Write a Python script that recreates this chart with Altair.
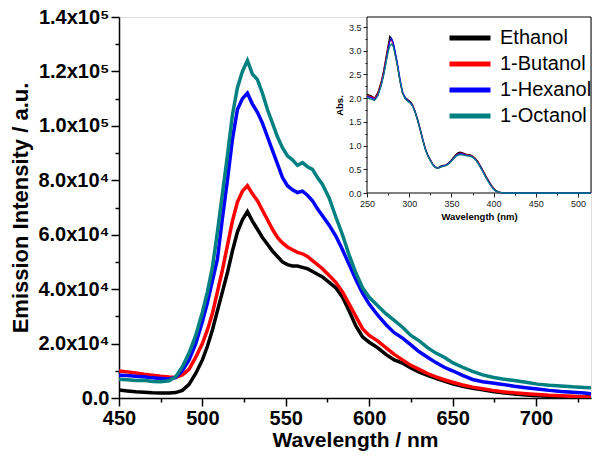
import altair as alt
import pandas as pd

# ---------------- data ----------------
series = ["Ethanol", "1-Butanol", "1-Hexanol", "1-Octanol"]
colors = ["#000000", "#ff0000", "#0000ff", "#008080"]

# main emission spectra (intensity in units of 1e3 a.u.)
em_nm = [450, 455, 460, 465, 470, 475, 480, 484, 488, 492, 496, 500, 503, 506, 509, 512,
         515, 518, 521, 524, 527, 530, 533, 536, 539, 542, 545, 548, 551, 554, 557, 560,
         563, 566, 569, 572, 576, 580, 584, 588, 592, 596, 600, 605, 610, 615, 620, 625,
         630, 635, 640, 645, 650, 656, 662, 668, 674, 680, 687, 694, 701, 708, 715, 722,
         729, 735]
em_ethanol = [2.9, 2.6, 2.3, 2.1, 1.9, 1.8, 1.8, 2.0, 2.8, 5.0, 9.0, 14.0, 19.0, 25.0, 32.0, 39.0,
              46.0, 54.0, 61.0, 65.5, 68.5, 65.0, 62.0, 59.0, 56.5, 54.0, 52.0, 50.0, 49.0, 48.5, 48.5, 48.0,
              47.5, 46.5, 45.5, 44.5, 42.5, 40.5, 37.0, 32.0, 26.5, 22.5, 20.5, 18.5, 16.0, 14.0, 12.8, 11.0,
              9.5, 8.3, 7.2, 6.2, 5.2, 4.3, 3.6, 3.0, 2.4, 1.9, 1.5, 1.1, 0.8, 0.6, 0.5, 0.4,
              0.4, 0.4]
em_butanol = [9.9, 9.6, 9.2, 8.7, 8.4, 8.0, 7.7, 7.6, 8.5, 10.5, 15.0, 20.0, 25.0, 31.0, 39.0, 47.0,
              56.0, 65.0, 72.0, 76.0, 78.0, 75.0, 72.5, 69.0, 65.5, 62.0, 59.0, 57.0, 55.5, 54.5, 53.5, 53.0,
              52.0, 50.5, 49.0, 47.5, 45.0, 42.5, 39.0, 34.5, 30.0, 25.5, 23.0, 21.0, 18.5, 16.0, 14.0, 12.0,
              10.5, 9.0, 7.8, 6.7, 5.8, 4.8, 4.0, 3.4, 2.8, 2.3, 1.9, 1.6, 1.3, 1.0, 0.8, 0.6,
              0.4, 0.3]
em_hexanol = [8.4, 8.3, 8.0, 7.8, 7.4, 7.2, 7.0, 7.5, 10.0, 14.0, 20.0, 28.0, 35.0, 43.0, 51.0, 66.0,
              80.0, 95.0, 106.0, 110.0, 112.0, 108.0, 105.0, 101.0, 96.0, 91.0, 86.0, 81.0, 78.0, 76.5, 75.5, 76.0,
              74.5, 72.5, 69.5, 67.0, 63.5, 59.5, 54.5, 49.0, 43.5, 38.5, 34.5, 30.5, 27.0, 24.0, 22.0, 19.5,
              17.0, 15.0, 13.0, 11.3, 10.0, 8.3, 6.8, 6.0, 5.5, 5.0, 4.3, 3.8, 3.3, 2.8, 2.4, 2.1,
              1.8, 1.5]
em_octanol = [6.9, 6.7, 6.4, 6.5, 6.1, 6.0, 6.3, 7.8, 11.5, 16.5, 23.0, 31.5, 39.0, 48.0, 61.0, 75.0,
              89.0, 104.0, 114.0, 120.0, 124.0, 119.0, 117.0, 112.0, 106.0, 101.0, 96.0, 92.0, 89.0, 87.5, 85.5, 86.5,
              85.0, 84.0, 81.0, 78.5, 73.5, 66.5, 60.0, 52.5, 46.0, 40.5, 37.0, 34.0, 31.0, 28.5, 26.0, 23.0,
              21.0, 18.5, 16.5, 15.0, 13.0, 11.3, 9.8, 8.5, 7.6, 7.0, 6.4, 5.8, 5.1, 4.7, 4.4, 4.1,
              3.9, 3.7]

# inset absorption spectra
abs_nm = [250, 255, 259, 263, 267, 270, 273, 275, 277, 279, 281, 283, 286, 289, 292, 295,
          298, 301, 304, 307, 310, 313, 316, 319, 322, 325, 328, 331, 334, 337, 340, 343,
          346, 349, 352, 355, 358, 361, 364, 367, 370, 373, 376, 379, 382, 385, 388, 391,
          394, 397, 400, 403, 406, 409, 412, 420, 440, 460, 480, 500, 515]
abs_ethanol = [2.08, 2.05, 2.00, 2.12, 2.35, 2.60, 2.90, 3.10, 3.30, 3.25, 3.15, 2.98, 2.70, 2.38, 2.12, 2.02,
               1.97, 1.93, 1.86, 1.72, 1.55, 1.35, 1.14, 0.94, 0.80, 0.70, 0.61, 0.55, 0.53, 0.56, 0.58, 0.59,
               0.62, 0.67, 0.74, 0.80, 0.85, 0.86, 0.84, 0.82, 0.81, 0.80, 0.77, 0.72, 0.64, 0.55, 0.45, 0.35,
               0.26, 0.17, 0.10, 0.05, 0.02, 0.01, 0.00, 0.00, 0.00, 0.00, 0.00, 0.00, 0.00]
abs_butanol = [2.05, 2.03, 1.99, 2.10, 2.33, 2.57, 2.87, 3.07, 3.22, 3.23, 3.14, 2.97, 2.69, 2.37, 2.11, 2.00,
               1.95, 1.91, 1.84, 1.70, 1.53, 1.33, 1.12, 0.93, 0.79, 0.69, 0.60, 0.54, 0.52, 0.55, 0.57, 0.58,
               0.61, 0.66, 0.72, 0.78, 0.83, 0.84, 0.83, 0.81, 0.80, 0.79, 0.76, 0.71, 0.63, 0.54, 0.44, 0.34,
               0.25, 0.16, 0.09, 0.04, 0.02, 0.01, 0.00, 0.00, 0.00, 0.00, 0.00, 0.00, 0.00]
abs_hexanol = [2.03, 2.01, 1.97, 2.07, 2.29, 2.53, 2.83, 3.03, 3.20, 3.26, 3.18, 3.01, 2.74, 2.41, 2.14, 2.01,
               1.95, 1.91, 1.84, 1.71, 1.54, 1.34, 1.13, 0.93, 0.79, 0.69, 0.60, 0.54, 0.52, 0.55, 0.57, 0.58,
               0.61, 0.66, 0.72, 0.78, 0.82, 0.83, 0.82, 0.80, 0.79, 0.78, 0.75, 0.70, 0.62, 0.53, 0.43, 0.33,
               0.24, 0.15, 0.08, 0.04, 0.02, 0.01, 0.00, 0.00, 0.00, 0.00, 0.00, 0.00, 0.00]
abs_octanol = [2.00, 1.98, 1.95, 2.05, 2.27, 2.50, 2.78, 2.97, 3.10, 3.14, 3.09, 2.94, 2.68, 2.37, 2.11, 1.99,
               1.94, 1.90, 1.83, 1.70, 1.53, 1.33, 1.12, 0.92, 0.78, 0.68, 0.59, 0.54, 0.52, 0.54, 0.56, 0.57,
               0.60, 0.65, 0.71, 0.77, 0.80, 0.81, 0.80, 0.79, 0.78, 0.77, 0.74, 0.69, 0.61, 0.52, 0.42, 0.32,
               0.23, 0.15, 0.08, 0.04, 0.02, 0.01, 0.00, 0.00, 0.00, 0.00, 0.00, 0.00, 0.00]

# axes
x_ticks = [450, 475, 500, 525, 550, 575, 600, 625, 650, 675, 700, 725]
y_ticks = [0, 10000, 20000, 30000, 40000, 50000, 60000, 70000, 80000, 90000, 100000,
           110000, 120000, 130000, 140000]
y_tick_labels = {0: "0.0", 20000: "2.0x10⁴", 40000: "4.0x10⁴", 60000: "6.0x10⁴",
                 80000: "8.0x10⁴", 100000: "1.0x10⁵", 120000: "1.2x10⁵", 140000: "1.4x10⁵"}
x_domain = [450, 733]
y_domain = [0, 140000]

inset_x_ticks = [250, 275, 300, 325, 350, 375, 400, 425, 450, 475, 500]
inset_y_ticks = [0, 0.25, 0.5, 0.75, 1.0, 1.25, 1.5, 1.75, 2.0, 2.25, 2.5, 2.75, 3.0, 3.25, 3.5]
inset_x_domain = [250, 515.4]
inset_y_domain = [0, 3.711]

# ---------------- tables ----------------
em_rows = []
for s, vals in zip(series, [em_ethanol, em_butanol, em_hexanol, em_octanol]):
    for w, v in zip(em_nm, vals):
        em_rows.append({"nm": w, "I": v * 1000, "solvent": s})
em_df = pd.DataFrame(em_rows)

abs_rows = []
for s, vals in zip(series, [abs_ethanol, abs_butanol, abs_hexanol, abs_octanol]):
    for w, v in zip(abs_nm, vals):
        abs_rows.append({"nm": w, "A": v, "solvent": s})
abs_df = pd.DataFrame(abs_rows)

frame_df = pd.DataFrame([{"nm": inset_x_domain[0], "nm2": inset_x_domain[1],
                          "A": inset_y_domain[0], "A2": inset_y_domain[1]}])

FONT = "Liberation Sans"
W, H = 472, 381
INSET_PX_X = [248, 472]
INSET_PX_Y = [176, 0]

color_enc = alt.Color(
    "solvent:N",
    scale=alt.Scale(domain=series, range=colors),
    legend=alt.Legend(
        title=None, orient="none", legendX=341, legendY=11, padding=0,
        symbolType="M-4,0H4", symbolSize=105, symbolStrokeWidth=5,
        labelFontSize=20, labelFont=FONT, labelColor="black", labelOffset=20,
        rowPadding=6, labelLimit=300,
    ),
)

y_expr = " : ".join(
    f"datum.value == {k} ? '{v}'" for k, v in y_tick_labels.items()
) + " : ''"

main = alt.Chart(em_df).mark_line(strokeWidth=3.5, clip=True).encode(
    x=alt.X("nm:Q", scale=alt.Scale(domain=x_domain, nice=False, zero=False),
            axis=alt.Axis(
                orient="bottom", values=x_ticks,
                labelExpr="datum.value % 50 == 0 ? datum.value : ''",
                tickSize={"condition": {"test": "datum.value % 50 != 0", "value": 4}, "value": 8},
                title="Wavelength / nm", titleFont=FONT, titleFontSize=21, titleFontWeight="bold",
                titleColor="black", titlePadding=1,
                labelFont=FONT, labelFontSize=20, labelFontWeight="bold", labelColor="black",
                labelPadding=2, labelFlush=False, labelOverlap=False, labelBound=False,
                domainColor="black", domainWidth=1.5, tickColor="black", tickWidth=1.5, grid=False)),
    y=alt.Y("I:Q", scale=alt.Scale(domain=y_domain, nice=False, zero=False),
            axis=alt.Axis(
                orient="left", values=y_ticks, labelExpr=y_expr,
                tickSize={"condition": {"test": "datum.value % 20000 != 0", "value": 4}, "value": 8},
                title="Emission Intensity / a.u.", titleFont=FONT, titleFontSize=22,
                titleFontWeight="bold", titleColor="black", titlePadding=5,
                labelFont=FONT, labelFontSize=20, labelFontWeight="bold", labelColor="black",
                labelPadding=2, labelOverlap=False, labelBound=False, labelFlush=False,
                domainColor="black", domainWidth=1.5, tickColor="black", tickWidth=1.5, grid=False)),
    color=color_enc,
)

inset_x_scale = alt.Scale(domain=inset_x_domain, range=INSET_PX_X, nice=False, zero=False)
inset_y_scale = alt.Scale(domain=inset_y_domain, range=INSET_PX_Y, nice=False, zero=False)

inset_x_axis = alt.Axis(
    orient="bottom", offset=-(H - INSET_PX_Y[0]), values=inset_x_ticks, zindex=2,
    labelExpr="datum.value % 50 == 0 ? datum.value : ''",
    tickSize={"condition": {"test": "datum.value % 50 != 0", "value": 2}, "value": 4},
    title="Wavelength (nm)", titleFont=FONT, titleFontSize=9.5, titleFontWeight="bold",
    titleColor="black", titlePadding=3,
    labelFont=FONT, labelFontSize=9, labelColor="#222222", labelPadding=2,
    labelFlush=False, labelOverlap=False, labelBound=False,
    domain=False, tickColor="#222222", tickWidth=1, grid=False)
inset_y_axis = alt.Axis(
    orient="left", offset=-INSET_PX_X[0], values=inset_y_ticks, zindex=2,
    labelExpr="datum.value % 0.5 == 0 ? format(datum.value, '.1f') : ''",
    tickSize={"condition": {"test": "datum.value % 0.5 != 0", "value": 2}, "value": 4},
    title="Abs.", titleFont=FONT, titleFontSize=9.5, titleFontWeight="bold",
    titleColor="black", titlePadding=4,
    labelFont=FONT, labelFontSize=9, labelColor="#222222", labelPadding=2,
    labelOverlap=False, labelBound=False, labelFlush=False,
    domain=False, tickColor="#222222", tickWidth=1, grid=False)

frame = alt.Chart(frame_df).mark_rect(fill="white", stroke="black", strokeWidth=1).encode(
    x=alt.X("nm:Q", scale=inset_x_scale, axis=inset_x_axis),
    x2="nm2:Q",
    y=alt.Y("A:Q", scale=inset_y_scale, axis=inset_y_axis),
    y2="A2:Q",
)

inset_lines = alt.Chart(abs_df).mark_line(strokeWidth=1.3).encode(
    x=alt.X("nm:Q", scale=inset_x_scale, axis=inset_x_axis),
    y=alt.Y("A:Q", scale=inset_y_scale, axis=inset_y_axis),
    color=color_enc,
)

inset = alt.layer(frame, inset_lines)

chart = alt.layer(main, inset).resolve_scale(
    x="independent", y="independent"
).resolve_axis(
    x="independent", y="independent"
).properties(
    width=W, height=H, autosize="none",
    padding={"left": 111, "top": 9, "right": 1, "bottom": 53},
).configure_view(stroke="black", strokeWidth=1.5).configure(background="white")

chart.save("out.html", embed_options={"renderer": "svg", "actions": False})
